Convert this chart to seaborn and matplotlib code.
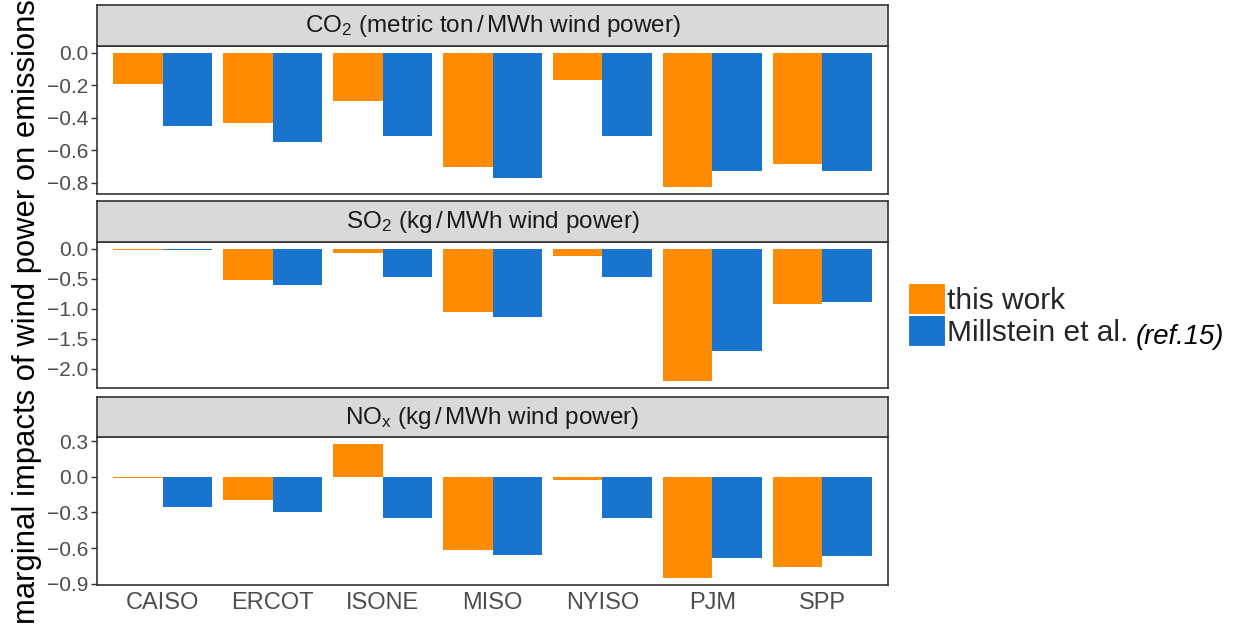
import numpy as np
import pandas as pd
import matplotlib
matplotlib.use("Agg")
import matplotlib.pyplot as plt
from matplotlib.patches import Patch
import seaborn as sns

isos = ["CAISO", "ERCOT", "ISONE", "MISO", "NYISO", "PJM", "SPP"]
sources = ["this work", "Millstein et al."]
co2_this = [-0.19, -0.435, -0.295, -0.70, -0.17, -0.827, -0.686]
co2_mill = [-0.448, -0.55, -0.51, -0.77, -0.51, -0.73, -0.725]
so2_this = [-0.018, -0.52, -0.066, -1.06, -0.115, -2.21, -0.93]
so2_mill = [-0.03, -0.61, -0.475, -1.13, -0.475, -1.70, -0.885]
nox_this = [-0.012, -0.197, 0.28, -0.613, -0.022, -0.855, -0.762]
nox_mill = [-0.256, -0.298, -0.349, -0.66, -0.349, -0.686, -0.669]
panel_titles = [r"CO$_2$ (metric ton$\,/\,$MWh wind power)",
                r"SO$_2$ (kg$\,/\,$MWh wind power)",
                r"NO$_\mathrm{x}$ (kg$\,/\,$MWh wind power)"]
yticks_list = [[0.0, -0.2, -0.4, -0.6, -0.8],
               [0.0, -0.5, -1.0, -1.5, -2.0],
               [0.3, 0.0, -0.3, -0.6, -0.9]]
legend_labels = ["this work", "Millstein et al."]
legend_ref = "(ref.15)"
ylabel = "marginal impacts of wind power on emissions"

colors = ["#FF8C00", "#1874CD"]

sns.set_theme(style="white")
plt.rcParams["font.family"] = ["Liberation Sans", "DejaVu Sans"]
plt.rcParams["mathtext.fontset"] = "custom"
plt.rcParams["mathtext.rm"] = "Liberation Sans"
plt.rcParams["mathtext.it"] = "Liberation Sans:italic"
plt.rcParams["mathtext.bf"] = "Liberation Sans:bold"

W, H = 1237, 626
fig = plt.figure(figsize=(W / 100, H / 100), dpi=100)

def fx(px):
    return px / W

def fy(py):
    return 1 - py / H

panels = [(5, 46, 194), (201, 242, 388), (397, 437, 585)]
data_sets = [(co2_this, co2_mill), (so2_this, so2_mill), (nox_this, nox_mill)]
x0, x1 = 97, 888

for i, ((s_top, p_top, p_bot), (a, b)) in enumerate(zip(panels, data_sets)):
    df = pd.DataFrame({
        "iso": isos * 2,
        "source": [sources[0]] * len(isos) + [sources[1]] * len(isos),
        "value": list(a) + list(b),
    })
    ax = fig.add_axes([fx(x0), fy(p_bot), fx(x1 - x0), (p_bot - p_top) / H])
    sns.barplot(data=df, x="iso", y="value", hue="source", order=isos,
                hue_order=sources, palette=colors, width=0.9, gap=0,
                linewidth=0, saturation=1, ax=ax, legend=False, errorbar=None)
    vals = np.array(list(a) + list(b) + [0.0])
    lo, hi = vals.min(), vals.max()
    rng = hi - lo
    ax.set_ylim(lo - 0.05 * rng, hi + 0.05 * rng)
    ax.set_xlim(-0.6, 6.6)
    ax.set_yticks(yticks_list[i])
    ax.set_yticklabels([f"{t:.1f}".replace("-", "\u2212") for t in yticks_list[i]],
                       fontsize=15, color="#4D4D4D")
    ax.set_xlabel("")
    ax.set_ylabel("")
    ax.tick_params(axis="y", length=4, width=1, color="#333333", pad=2, left=True)
    if i == 2:
        ax.tick_params(axis="x", length=0, labelsize=17, labelcolor="#4D4D4D", pad=5)
    else:
        ax.set_xticklabels([])
        ax.tick_params(axis="x", length=0)
    for sp in ax.spines.values():
        sp.set_color("#333333")
        sp.set_linewidth(1.2)
        sp.set_visible(True)
    # strip
    sax = fig.add_axes([fx(x0), fy(p_top), fx(x1 - x0), (p_top - s_top) / H])
    sax.set_facecolor("#D9D9D9")
    sax.set_xticks([])
    sax.set_yticks([])
    for sp in sax.spines.values():
        sp.set_color("#333333")
        sp.set_linewidth(1.2)
    sax.text(0.5, 0.48, panel_titles[i], ha="center", va="center",
             fontsize=17.5, color="#1A1A1A", transform=sax.transAxes)

fig.text(fx(27), fy(312), ylabel, rotation=90, ha="center", va="center",
         fontsize=22.3, color="black")

handles = [Patch(facecolor=c, edgecolor="white", linewidth=0.8) for c in colors]
leg = fig.legend(handles, legend_labels, loc="center left",
                 bbox_to_anchor=(fx(908), fy(315)), frameon=False, fontsize=21.5,
                 handlelength=1.24, handleheight=1.22, handletextpad=0.08,
                 labelspacing=0.0, borderpad=0, borderaxespad=0)

fig.canvas.draw()
r = fig.canvas.get_renderer()
bb = leg.get_texts()[1].get_window_extent(r)
fig.text((bb.x1 + 7) / W, (bb.y0 + bb.y1) / 2 / H - 4 / H, legend_ref,
         style="italic", fontsize=19.8, ha="left", va="center", color="black")

fig.savefig("out.png", dpi=100)
